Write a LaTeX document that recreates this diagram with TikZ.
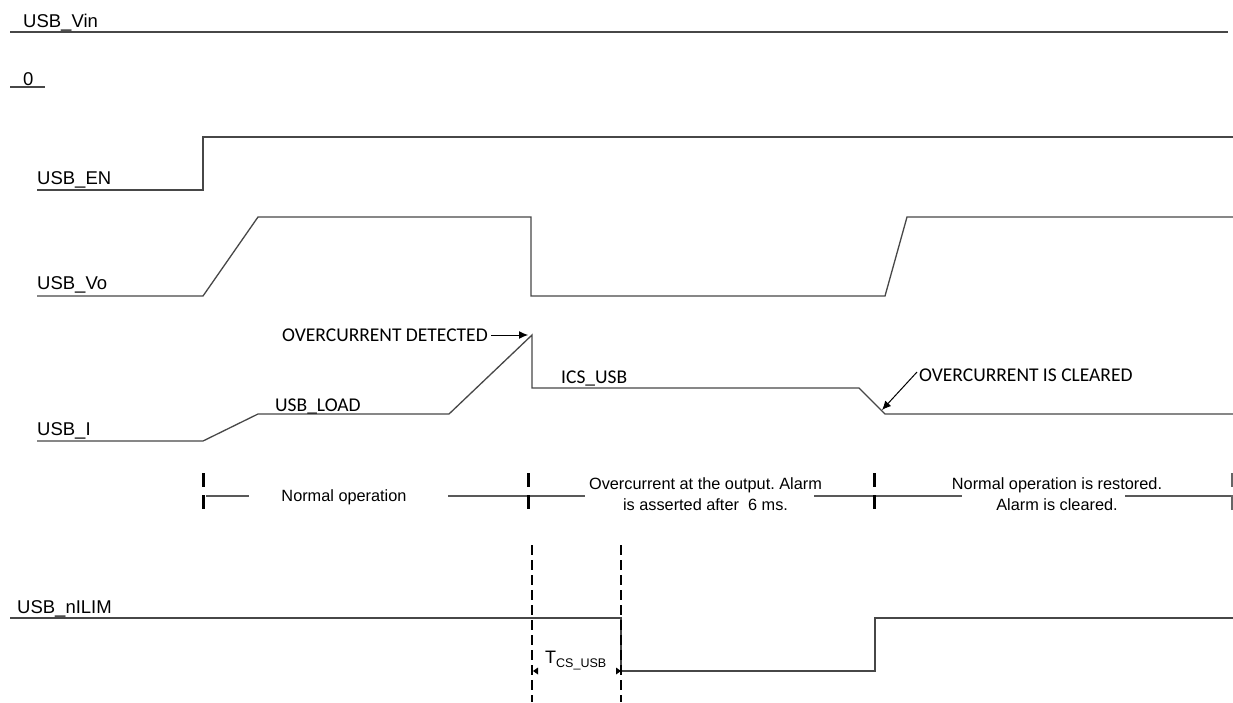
\documentclass[tikz,border=0pt]{standalone}
\usepackage{fontspec}
\setmainfont{Liberation Sans}
\newfontfamily\calfont{Carlito}
\usetikzlibrary{arrows.meta}
\frenchspacing
\begin{document}
\begin{tikzpicture}[x=1pt,y=-1pt,
  sig/.style={draw=black!72, line width=1.3pt},
  lbl/.style={anchor=base west, inner sep=0pt, font=\fontsize{18.5}{22}\selectfont},
  cal/.style={anchor=base west, inner sep=0pt, font=\calfont\fontsize{19.5}{23}\selectfont},
  phase/.style={inner sep=0pt, align=center, font=\fontsize{16.3}{21}\selectfont},
  tickbar/.style={line width=3pt, draw=black},
  thinbar/.style={line width=1.2pt, draw=black!60},
  guide/.style={draw=black, line width=2.8pt, dash pattern=on 10pt off 5pt},
  callout/.style={draw=black, line width=1pt, -{Latex[length=9pt,width=8pt]}}]
\fill[white] (0,0) rectangle (1233,702);
\useasboundingbox (0,0) rectangle (1233,702);
% labels
\node[lbl] (lvin) at (23,27) {USB\_Vin};
\node[lbl] (lzero) at (23,85) {0};
\node[lbl] (len) at (37,184) {USB\_EN};
\node[lbl] (lvo) at (37,289) {USB\_Vo};
\node[lbl] (li) at (37,435) {USB\_I};
\node[lbl] (lnilim) at (17,613) {USB\_nILIM};
% USB_Vin
\draw[sig] (10,32) -- (1228,32);
\draw[sig] (10,87) -- (45,87);
% USB_EN
\draw[sig] (37,190) -- (203,190) -- (203,137) -- (1233,137);
% USB_Vo
\draw[sig] (37,296) -- (203,296) -- (258,217) -- (531,217) -- (531,296) -- (885,296) -- (907,217) -- (1233,217);
% USB_I
\draw[sig] (37,441) -- (203,441) -- (258,414) -- (449,414) -- (532,335) -- (532,388) -- (859,388) -- (885,414) -- (1233,414);
\node[cal] (tdet) at (282,341) {OVERCURRENT DETECTED};
\coordinate (pdet) at (528,335);
\draw[callout] (tdet.east |- pdet) ++(3,0) -- (pdet);
\node[cal] (tload) at (275,411) {USB\_LOAD};
\node[cal] (tics) at (561,383) {ICS\_USB};
\node[cal] (tclr) at (919,381) {OVERCURRENT IS CLEARED};
\coordinate (pclr) at (882,410);
\draw[callout] (917,372) -- (pclr);
% phases
\draw[draw=black!65, line width=1.2pt] (206,496) -- (249,496);
\draw[draw=black!65, line width=1.2pt] (448,496) -- (585,496);
\draw[draw=black!65, line width=1.2pt] (814,496) -- (962,496);
\draw[draw=black!65, line width=1.2pt] (1125,496) -- (1232,496);
\foreach \x in {203,528,874}{
  \draw[tickbar] (\x,473) -- (\x,487);
  \draw[tickbar] (\x,495) -- (\x,509);
}
\draw[thinbar] (1232,473) -- (1232,487);
\draw[thinbar] (1232,495) -- (1232,510);
\node[phase] (pn) at (344,497) {Normal operation};
\node[phase, anchor=base] (po) at (705.5,510) {Overcurrent at the output. Alarm\\is asserted after\ \ 6 ms.};
\node[phase, anchor=base] (pr) at (1057,510) {Normal operation is restored.\\Alarm is cleared.};
% USB_nILIM
\draw[sig] (10,618) -- (621,618) -- (621,671) -- (875,671) -- (875,618) -- (1233,618);
\draw[guide] (532,545) -- (532,702);
\draw[guide] (621,545) -- (621,702);
\node[anchor=base west, inner sep=0pt] (tcs) at (545,663) {\fontsize{18}{20}\selectfont T\fontsize{12.5}{14}\selectfont\raisebox{-4pt}{CS\_USB}};
\fill[black] (533,671) -- (538,667.5) -- (538,674.5) -- cycle;
\fill[black] (621,671) -- (616,667.5) -- (616,674.5) -- cycle;
\end{tikzpicture}
\end{document}
